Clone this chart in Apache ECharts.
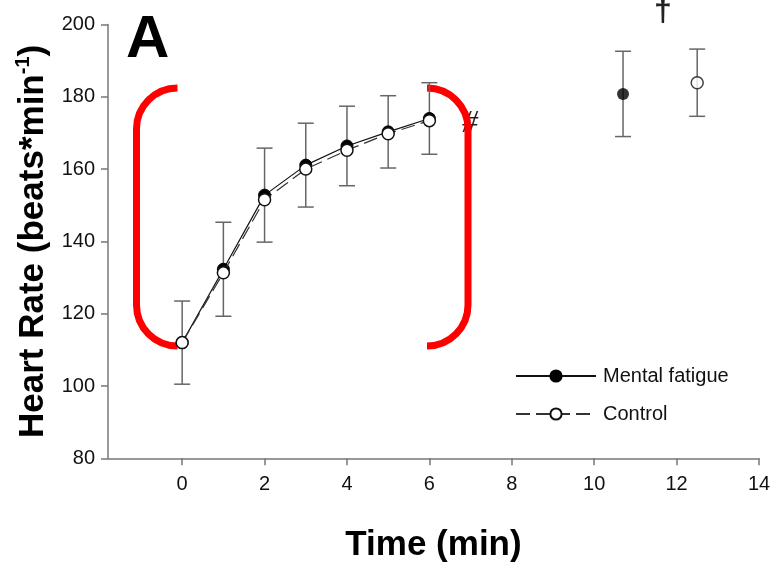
<!DOCTYPE html>
<html>
<head>
<meta charset="utf-8">
<script src="https://cdn.jsdelivr.net/npm/echarts@6/dist/echarts.min.js"></script>
<style>
  html, body { margin: 0; padding: 0; background: #fff; }
  #chart { width: 780px; height: 562px; }
</style>
</head>
<body>
<div id="chart"></div>
<script>
// time points (min)
var timePoints = [0, 1, 2, 3, 4, 5, 6];
var mentalHR = [112, 132.3, 152.8, 161.1, 166.4, 170.3, 174.0];
var controlHR = [112, 131.3, 151.5, 160.0, 165.2, 169.8, 173.4];
// one shared SD bar per time point (groups overlap)
var mentalSD = [11.5, 13, 13, 11.6, 11, 10, 9.9];
// end-of-exercise points: time, mean, sd
var mentalPost = [10.7, 180.8, 11.8];
var controlPost = [12.5, 183.9, 9.3];
var xTicks = [0, 2, 4, 6, 8, 10, 12, 14];

var font = 'Liberation Sans, Arial, sans-serif';

function pairs(xs, ys) {
  return xs.map(function (x, i) { return [x, ys[i]]; });
}
function bars(xs, ys, sd) {
  return xs.map(function (x, i) { return [x, ys[i] - sd[i], ys[i] + sd[i]]; });
}

var errData = bars(timePoints, mentalHR, mentalSD)
  .concat([[mentalPost[0], mentalPost[1] - mentalPost[2], mentalPost[1] + mentalPost[2]]])
  .concat([[controlPost[0], controlPost[1] - controlPost[2], controlPost[1] + controlPost[2]]]);

var chart = echarts.init(document.getElementById('chart'));

// red bracket pieces (annotation)
function bracket(xv, cx, side) {
  var r = 41, yt = 129, yb = 305;
  var s = { stroke: '#ff0000', lineWidth: 7, fill: null };
  return [
    { type: 'line', shape: { x1: xv, y1: yt, x2: xv, y2: yb }, style: s, silent: true },
    { type: 'arc', shape: { cx: cx, cy: yt, r: r,
        startAngle: side < 0 ? Math.PI : Math.PI * 1.5,
        endAngle: side < 0 ? Math.PI * 1.5 : Math.PI * 2, clockwise: true }, style: s, silent: true },
    { type: 'arc', shape: { cx: cx, cy: yb, r: r,
        startAngle: side < 0 ? Math.PI * 0.5 : 0,
        endAngle: side < 0 ? Math.PI : Math.PI * 0.5, clockwise: true }, style: s, silent: true }
  ];
}

var option = {
  animation: false,
  backgroundColor: '#fff',
  grid: { left: 108, right: 21, top: 24.5, bottom: 103.7, outerBoundsMode: 'none', containLabel: false },
  xAxis: {
    type: 'value', min: -1.8, max: 14,
    name: 'Time (min)', nameLocation: 'middle', nameGap: 70,
    nameTextStyle: { fontFamily: font, fontSize: 35, fontWeight: 'bold', color: '#000' },
    axisLine: { onZero: false, lineStyle: { color: '#777', width: 1.5 } },
    axisTick: { show: true, length: 7, customValues: xTicks, lineStyle: { color: '#777', width: 1.5 } },
    axisLabel: { customValues: xTicks, fontFamily: font, fontSize: 20, color: '#111', margin: 16 },
    splitLine: { show: false }
  },
  yAxis: {
    type: 'value', min: 80, max: 200, interval: 20,
    name: '{a|Heart Rate (beats*min}{s|-1}{a|)}', nameLocation: 'middle', nameGap: 55, nameRotate: 90,
    nameTextStyle: {
      rich: {
        a: { fontFamily: font, fontSize: 35, fontWeight: 'bold', color: '#000', lineHeight: 40 },
        s: { fontFamily: font, fontSize: 20, fontWeight: 'bold', color: '#000', verticalAlign: 'top', lineHeight: 40, padding: [0, 0, 12, 0] }
      }
    },
    axisLine: { show: true, onZero: false, lineStyle: { color: '#777', width: 1.5 } },
    axisTick: { show: true, length: 7, lineStyle: { color: '#777', width: 1.5 } },
    axisLabel: { fontFamily: font, fontSize: 20, color: '#111', margin: 13 },
    splitLine: { show: false }
  },
  legend: {
    data: ['Mental fatigue', 'Control'],
    orient: 'vertical', left: 510, top: 361,
    itemWidth: 80, itemHeight: 14, itemGap: 18,
    textStyle: { fontFamily: font, fontSize: 20, color: '#111', padding: [0, 0, 0, 2] }
  },
  graphic: [
    { type: 'text', left: 126, top: 10, style: { text: 'A', fontFamily: font, fontSize: 60, fontWeight: 'bold', fill: '#000' } },
    { type: 'text', left: 462, top: 108, style: { text: '#', fontFamily: 'Liberation Serif, serif', fontStyle: 'italic', fontSize: 32, fill: '#222' } },
    { type: 'text', left: 654, top: -4, style: { text: '\u2020', fontFamily: font, fontSize: 32, fontWeight: 'bold', fill: '#222' } }
  ].concat(bracket(136.5, 177.5, -1)).concat(bracket(468, 427, 1)),
  series: [
    {
      type: 'custom', name: 'sd', z: 1, silent: true,
      data: errData,
      renderItem: function (params, api) {
        var x = api.value(0);
        var lo = api.coord([x, api.value(1)]);
        var hi = api.coord([x, api.value(2)]);
        var w = 8;
        var st = { stroke: '#666', lineWidth: 1.5 };
        return {
          type: 'group',
          children: [
            { type: 'line', shape: { x1: lo[0], y1: lo[1], x2: hi[0], y2: hi[1] }, style: st },
            { type: 'line', shape: { x1: hi[0] - w, y1: hi[1], x2: hi[0] + w, y2: hi[1] }, style: st },
            { type: 'line', shape: { x1: lo[0] - w, y1: lo[1], x2: lo[0] + w, y2: lo[1] }, style: st }
          ]
        };
      }
    },
    {
      type: 'line', name: 'Control', z: 3,
      data: pairs(timePoints, controlHR),
      symbol: 'circle', symbolSize: 12,
      lineStyle: { color: '#333', width: 1.2, type: [14, 6] },
      itemStyle: { color: '#fff', borderColor: '#111', borderWidth: 1.5 }
    },
    {
      type: 'line', name: 'Mental fatigue', z: 2,
      data: pairs(timePoints, mentalHR),
      symbol: 'circle', symbolSize: 12,
      lineStyle: { color: '#111', width: 1.2 },
      itemStyle: { color: '#000', borderColor: '#000', borderWidth: 1 }
    },
    {
      type: 'scatter', name: 'mfPost', z: 3,
      data: [[mentalPost[0], mentalPost[1]]],
      symbol: 'circle', symbolSize: 12,
      itemStyle: { color: '#000' }
    },
    {
      type: 'scatter', name: 'ctPost', z: 3,
      data: [[controlPost[0], controlPost[1]]],
      symbol: 'circle', symbolSize: 12,
      itemStyle: { color: '#fff', borderColor: '#111', borderWidth: 1.5 }
    }
  ]
};

chart.setOption(option);
</script>
</body>
</html>
